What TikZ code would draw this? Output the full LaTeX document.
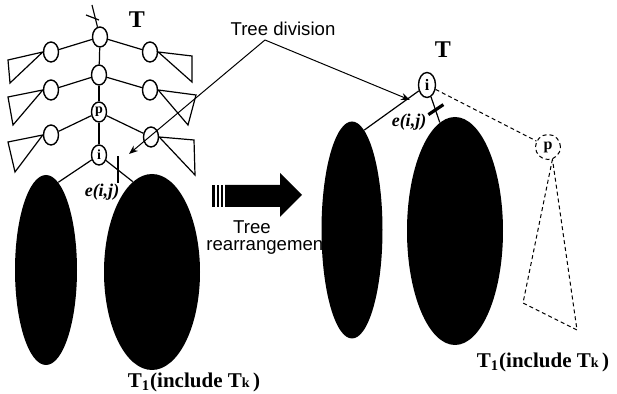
\documentclass[tikz,border=0pt]{standalone}
\usepackage{fontspec}
\setmainfont{Liberation Serif}
\setsansfont{Liberation Sans}
\usetikzlibrary{arrows.meta,positioning,shapes.geometric,calc}
\tikzset{
  tnode/.style  ={ellipse, draw, line width=0.7pt, fill=white, inner sep=0pt,
                  minimum width=7.5pt, minimum height=10pt,
                  font=\bfseries\fontsize{7}{7}\selectfont},
  tnodeR/.style ={tnode, minimum width=8.5pt, minimum height=12.5pt,
                  font=\bfseries\fontsize{8}{8}\selectfont},   % rechte Seite
  tnodeD/.style ={tnode, circle, dash pattern=on 2pt off 1.5pt, line width=0.5pt,
                  minimum size=12.5pt, font=\bfseries\fontsize{8}{8}\selectfont}, % verschoben
  blob/.style   ={ellipse, fill=black, inner sep=0pt},
  edge/.style   ={line width=0.6pt},
  dedge/.style  ={edge, dash pattern=on 2pt off 1.5pt, line width=0.5pt},
  flow/.style   ={-{Stealth[length=4.5pt, width=3.5pt]}, line width=0.5pt},
  bigT/.style   ={font=\bfseries\fontsize{12}{12}\selectfont},
  elbl/.style   ={font=\bfseries\itshape\fontsize{9}{9}\selectfont},
  tlbl/.style   ={font=\bfseries\fontsize{10.5}{12}\selectfont},
  note/.style   ={font=\sffamily\fontsize{9.3}{10.5}\selectfont, inner sep=1pt},
}

\begin{document}
\begin{tikzpicture}[x=0.5pt, y=-0.5pt]
  \useasboundingbox (0,0) rectangle (617,394);

  % ---- linker Baum ----
  \node[bigT] (Tl) at (137,20) {T};
  \node[tnode] (root) at (100,37)  {};
  \node[tnode] (l1)   at (51,52)   {};
  \node[tnode] (r1)   at (150,52)  {};
  \node[tnode] (c2)   at (99,75)   {};
  \node[tnode] (l2)   at (51,90)   {};
  \node[tnode] (r2)   at (150,90)  {};
  \node[tnode] (p)    at (99,112)  {p};
  \node[tnode] (l3)   at (51,135)  {};
  \node[tnode] (r3)   at (151,137) {};
  \node[tnode] (i)    at (99,155)  {i};
  \node[blob, minimum width=31pt, minimum height=95pt] (L1) at (46,270)  {};
  \node[blob, minimum width=48pt, minimum height=98pt] (L2) at (152,272) {};

  \coordinate (up) at (92,5);
  \draw[edge] (root) -- (up);
  \draw[edge] (86,15) -- (99,20);
  \foreach \a/\b in {root/l1, root/r1, root/c2, c2/l2, c2/r2, c2/p, p/l3, p/r3, p/i}
    \draw[edge] (\a) -- (\b);
  % Teilbaeume
  \draw[edge] (l1.west) -- (8,60)   -- (10,83)  -- cycle;
  \draw[edge] (l2.west) -- (8,97)   -- (13,125) -- cycle;
  \draw[edge] (l3.west) -- (8,142)  -- (15,172) -- cycle;
  \draw[edge] (r1.east) -- (192,56) -- (192,82) -- cycle;
  \draw[edge] (r2.east) -- (196,95) -- (188,125) -- cycle;
  \draw[edge] (r3.east) -- (194,140) -- (195,175) -- cycle;

  \draw[edge] (i) -- (L1.82);
  \draw[edge] (i) -- (L2.102) coordinate[pos=0.45] (cutL);
  \draw[edge] ($(cutL)+(0,-14)$) -- ($(cutL)+(0,13)$);
  \node[elbl] (eL) at (102,192) {e(i,j)};
  \node[tlbl] (T1l) at (194,382) {T\textsubscript{1}(include T{\fontsize{7}{8}\selectfont k}\,)};

  % ---- Tree division ----
  \node[note] (td) at (283,29) {Tree division};
  \coordinate (tdfoot) at (265,40);
  \coordinate (tipA) at (129,154);
  \coordinate (tipB) at (410,100);
  \draw[flow] (tdfoot) -- (tipA);
  \draw[flow] (tdfoot) -- (tipB);

  % ---- Umordnungspfeil ----
  \fill (212,185) rectangle (215,207);
  \fill (217,185) rectangle (219,207);
  \fill (221,185) rectangle (223,207);
  \fill (225,185) -- (280,185) -- (280,173) -- (302,195) -- (280,217)
        -- (280,207) -- (225,207) -- cycle;
  \node[note] (tr1) at (252,227) {Tree};
  \node[note, anchor=west] (tr2) at (204,246) {rearrangement};

  % ---- rechter Baum ----
  \node[bigT] (Tr) at (443,50) {T};
  \node[tnodeR] (iR) at (427,85) {i};
  \node[blob, minimum width=30.5pt, minimum height=108.5pt] (R1) at (352,230) {};
  \node[blob, minimum width=48pt, minimum height=114pt] (R2) at (455,231) {};
  \node[tnodeD] (pR) at (548,147) {p};

  \draw[edge] (iR) -- (R1.83);
  \draw[edge] (iR) -- (R2.98) coordinate[pos=0.5] (cutR);
  \draw[line width=1.6pt] ($(cutR)+(-7,5)$) -- ($(cutR)+(8,-5)$);
  \node[elbl] (eR) at (409,122) {e(i,j)};
  \draw[dedge] (iR) -- (pR);
  \draw[dedge] (pR.-70) -- (523,303) -- (577,330) -- cycle;
  \node[tlbl] (T1r) at (543,362) {T\textsubscript{1}(include T{\fontsize{7}{8}\selectfont k}\,)};
\end{tikzpicture}
\end{document}
